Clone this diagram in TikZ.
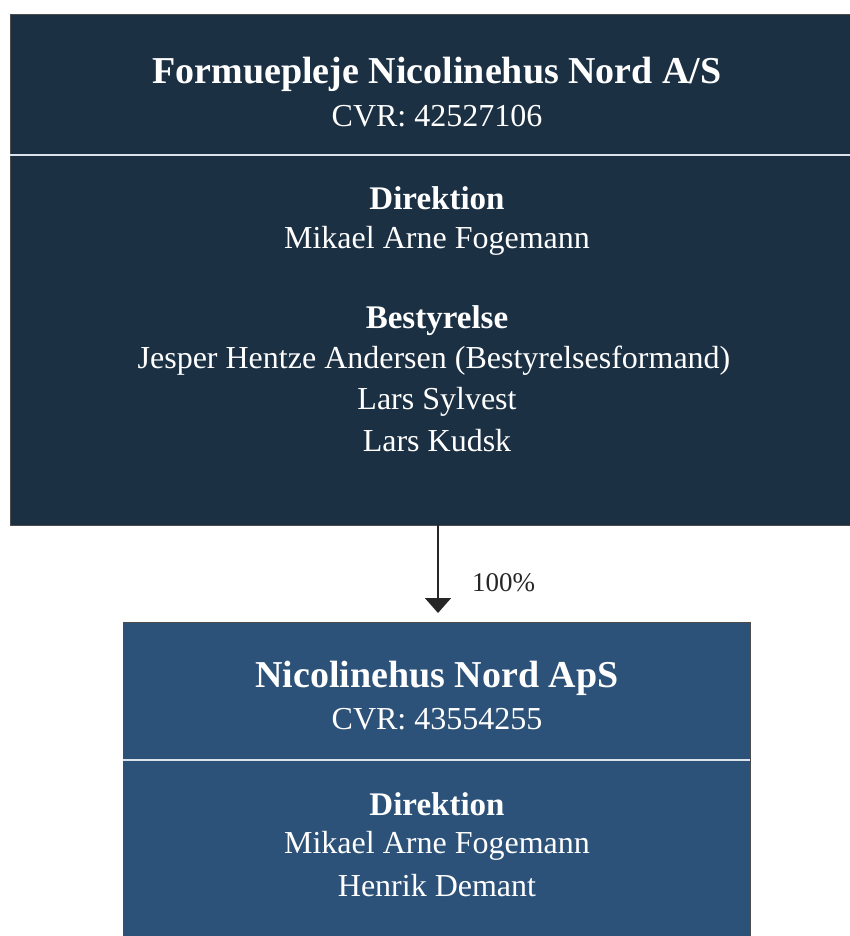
\documentclass[tikz,border=0pt]{standalone}
\usepackage{fontspec}
\setmainfont{Liberation Serif}
\usetikzlibrary{arrows.meta}
\definecolor{topnavy}{HTML}{1C3044}
\definecolor{botblue}{HTML}{2D5279}
\definecolor{divline}{HTML}{DCE3EA}
\begin{document}
\begin{tikzpicture}[x=1pt,y=-1pt,
  boxfill/.style={draw=black!70, line width=1pt, inner sep=0pt, outer sep=0pt},
  wt/.style={text=white, font=\fontsize{32}{34}\selectfont, inner sep=0pt, anchor=center},
  wtb/.style={text=white, font=\fontsize{33}{35}\selectfont\bfseries, inner sep=0pt, anchor=center},
  wtitle/.style={text=white, font=\fontsize{38}{40}\selectfont\bfseries, inner sep=0pt, anchor=center},
  divider/.style={draw=divline, line width=2pt},
  arr/.style={-{Triangle[length=15pt,width=26pt]}, line width=1.8pt, black!85}
]
\useasboundingbox (0,0) rectangle (850,936);
\clip (0,0) rectangle (850,936);
% top box
\node[boxfill, fill=topnavy, minimum width=860pt, minimum height=510pt, anchor=north west] (top) at (10,15) {};
\coordinate (tdl) at (10,155);
\coordinate (tdr) at (860,155);
\draw[divider] (tdl) -- (tdr);
\node[wtitle] (t1) at (437,74) {Formuepleje Nicolinehus Nord A/S};
\node[wt] (t2) at (437,116) {CVR: 42527106};
\node[wtb] (t3) at (437,198) {Direktion};
\node[wt] (t4) at (437,241) {Mikael Arne Fogemann};
\node[wtb] (t5) at (437,321) {Bestyrelse};
\node[wt] (t6) at (434,361) {Jesper Hentze Andersen (Bestyrelsesformand)};
\node[wt] (t7) at (437,402) {Lars Sylvest};
\node[wt] (t8) at (437,441) {Lars Kudsk};
% bottom box
\node[boxfill, fill=botblue, minimum width=627pt, minimum height=340pt, anchor=north west] (bot) at (123,622) {};
\coordinate (bdl) at (123,760);
\coordinate (bdr) at (750,760);
\draw[divider] (bdl) -- (bdr);
\node[wtitle] (b1) at (437,678) {Nicolinehus Nord ApS};
\node[wt] (b2) at (437,719) {CVR: 43554255};
\node[wtb] (b3) at (437,804) {Direktion};
\node[wt] (b4) at (437,846) {Mikael Arne Fogemann};
\node[wt] (b5) at (437,886) {Henrik Demant};
% arrow
\coordinate (as) at (438,525);
\coordinate (ae) at (438,613);
\draw[arr] (as) -- (ae);
\node[font=\fontsize{27}{29}\selectfont, text=black!85, anchor=west, inner sep=0pt] (pct) at (472,583) {100\%};
\end{tikzpicture}
\end{document}
